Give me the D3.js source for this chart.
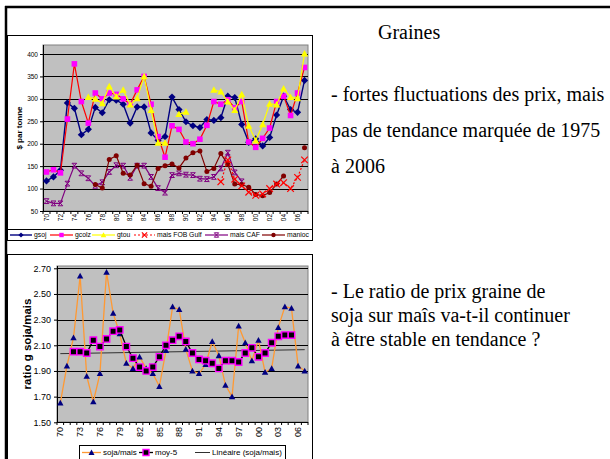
<!DOCTYPE html>
<html>
<head>
<meta charset="utf-8">
<script src="https://cdn.jsdelivr.net/npm/d3@7"></script>
<style>
  body { margin: 0; background: #fff; }
  svg { display: block; }
</style>
</head>
<body>
<svg id="slide" width="610" height="459"></svg>
<script>
// ---------- data ----------
const years = ["70","71","72","73","74","75","76","77","78","79",
               "80","81","82","83","84","85","86","87","88","89",
               "90","91","92","93","94","95","96","97","98","99",
               "00","01","02","03","04","05","06","07"];

// prices, $ per tonne
const gsoj   = [117,126,141,291,279,220,232,281,269,298,
                297,288,246,282,282,224,208,216,304,276,
                249,240,236,254,252,258,306,303,243,203,
                211,195,214,264,306,276,270,341];
const gcolz  = [137,142,135,255,378,294,246,313,300,313,
                310,300,288,320,350,288,216,170,240,232,
                204,200,210,241,294,288,298,280,294,204,
                192,212,235,294,306,263,313,370];
const gtou   = [null,null,null,null,null,null,304,300,290,328,
                305,320,287,301,350,275,202,202,null,266,
                271,null,null,null,320,316,294,275,310,240,
                207,243,289,287,323,304,301,401];
const maisFOB = [null,null,null,null,null,null,null,null,null,null,
                 null,null,null,null,null,null,null,null,null,null,
                 null,null,null,null,null,115,164,121,106,92,
                 85,88,100,110,113,100,125,164];
const maisCAF = [72,67,67,111,151,134,123,106,114,137,
                 152,151,124,151,151,126,101,91,130,134,
                 131,130,122,121,126,145,180,136,116,null,
                 null,null,null,null,null,null,null,null];
const manioc = [null,null,null,null,null,null,null,109,101,165,
                173,134,130,152,111,105,145,151,155,146,
                168,180,184,138,145,178,154,110,109,103,
                87,84,91,110,128,null,null,191];

const priceTicks = [50,100,150,200,250,300,350,400];
const priceYearLabels = ["70","72","74","76","78","80","82","84","86","88",
                         "90","92","94","96","98","00","02","04","06"];

// soybean / maize price ratio
const sojaMais = [1.65,1.94,2.16,2.64,1.86,1.66,1.88,2.67,2.35,2.19,
                  1.96,1.92,2.01,1.92,1.88,1.78,2.06,2.40,2.38,2.07,
                  1.90,1.88,1.95,2.13,2.02,1.79,1.70,2.25,2.12,1.98,
                  2.14,1.89,1.92,2.24,2.40,2.39,1.94,1.90];
const moy5 = [null,null,2.05,2.05,2.04,2.14,2.09,2.15,2.21,2.22,
              2.09,2.00,1.93,1.90,1.93,2.01,2.10,2.14,2.17,2.13,
              2.04,1.99,1.98,1.96,1.92,1.98,1.98,1.97,2.04,2.08,
              2.01,2.04,2.12,2.17,2.18,2.18,null,null];
const trendEnds = [2.035, 2.066];   // linear trend at first and last year

const ratioTicks = [1.50,1.70,1.90,2.10,2.30,2.50,2.70];
const ratioYearLabels = ["70","73","76","79","82","85","88","91","94","97","00","03","06"];

const SANS = "'Liberation Sans', Arial, sans-serif";
const SERIF = "'Liberation Serif', 'Times New Roman', serif";

// ---------- marker shapes ----------
const markers = {
  diamond: r => `M0,${-r}L${r},0L0,${r}L${-r},0Z`,
  square: r => `M${-r},${-r}H${r}V${r}H${-r}Z`,
  triangle: r => `M0,${-r}L${r},${r*0.8}L${-r},${r*0.8}Z`,
  cross: r => `M${-r},${-r}L${r},${r}M${-r},${r}L${r},${-r}`,
  star: r => `M${-r},${-r}L${r},${r}M${-r},${r}L${r},${-r}M${-r},${-r}H${r}M${-r},${r}H${r}`,
  circle: r => `M${r},0A${r},${r} 0 1 1 ${-r},0A${r},${r} 0 1 1 ${r},0Z`
};

const svg = d3.select("#slide");

// ---------- slide frame ----------
svg.append("line").attr("x1", 5).attr("x2", 610).attr("y1", 7).attr("y2", 7)
  .attr("stroke", "#000").attr("stroke-width", 2.5);
svg.append("line").attr("x1", 6).attr("x2", 6).attr("y1", 6).attr("y2", 459)
  .attr("stroke", "#000").attr("stroke-width", 2.5);

// chart boxes
svg.append("rect").attr("x", 7.5).attr("y", 35.5).attr("width", 305).attr("height", 205)
  .attr("fill", "#fff").attr("stroke", "#000");
svg.append("line").attr("x1", 7).attr("x2", 313).attr("y1", 229.5).attr("y2", 229.5)
  .attr("stroke", "#000");
svg.append("rect").attr("x", 7.5).attr("y", 254.5).attr("width", 305).attr("height", 220)
  .attr("fill", "#fff").attr("stroke", "#000");

// ---------- generic series drawing ----------
function drawSeries(g, x, y, values, opt) {
  const pts = years.map((yr, i) => ({ yr, v: values[i] }));
  const line = d3.line()
    .defined(d => d.v != null)
    .x(d => x(d.yr) + x.bandwidth() / 2)
    .y(d => y(d.v));
  g.append("path").datum(pts)
    .attr("fill", "none")
    .attr("stroke", opt.line)
    .attr("stroke-width", opt.lw || 1.2)
    .attr("stroke-dasharray", opt.dash || null)
    .attr("d", line);
  g.selectAll(null).data(pts.filter(d => d.v != null)).enter()
    .append("path")
    .attr("transform", d => `translate(${x(d.yr) + x.bandwidth() / 2},${y(d.v)})`)
    .attr("d", markers[opt.shape](opt.r))
    .attr("fill", opt.fill || "none")
    .attr("stroke", opt.stroke || "none")
    .attr("stroke-width", opt.sw || 1);
}

function legendItem(g, x0, x1, y, label, opt, fontSize) {
  g.append("line").attr("x1", x0).attr("x2", x1).attr("y1", y).attr("y2", y)
    .attr("stroke", opt.line).attr("stroke-width", opt.lw || 1.2)
    .attr("stroke-dasharray", opt.dash || null);
  if (opt.shape) {
    g.append("path").attr("transform", `translate(${(x0 + x1) / 2},${y})`)
      .attr("d", markers[opt.shape](opt.lr || opt.r))
      .attr("fill", opt.fill || "none")
      .attr("stroke", opt.stroke || "none")
      .attr("stroke-width", opt.sw || 1);
  }
  g.append("text").attr("x", x1 + 2).attr("y", y).attr("dy", "0.35em")
    .attr("font-family", SANS).attr("font-size", fontSize).attr("fill", "#000")
    .text(label);
}

// ---------- chart 1: prices ----------
const p1 = { left: 43, right: 308, top: 45, bottom: 211 };
const x1 = d3.scaleBand().domain(years).range([p1.left, p1.right]);
const y1 = d3.scaleLinear().domain([50, 400]).range([211, 54]);
const g1 = svg.append("g");

g1.append("rect").attr("x", p1.left).attr("y", p1.top)
  .attr("width", p1.right - p1.left).attr("height", p1.bottom - p1.top)
  .attr("fill", "#c0c0c0").attr("stroke", "#808080");
g1.selectAll(null).data(priceTicks.slice(1)).enter().append("line")
  .attr("x1", p1.left).attr("x2", p1.right)
  .attr("y1", d => Math.round(y1(d)) + 0.5).attr("y2", d => Math.round(y1(d)) + 0.5)
  .attr("stroke", "#000");

const ax1 = g1.append("g").attr("transform", `translate(${p1.left},0)`)
  .call(d3.axisLeft(y1).tickValues(priceTicks).tickSize(3).tickPadding(2));
ax1.select(".domain").remove();
ax1.selectAll("text").attr("font-family", SANS).attr("font-size", 6.5).attr("fill", "#000");
g1.append("line").attr("x1", p1.left + 0.5).attr("x2", p1.left + 0.5)
  .attr("y1", p1.top).attr("y2", p1.bottom).attr("stroke", "#000");

// category axis: ticks on band edges, labels centred on each other year
g1.append("line").attr("x1", p1.left).attr("x2", p1.right)
  .attr("y1", p1.bottom + 0.5).attr("y2", p1.bottom + 0.5).attr("stroke", "#000");
g1.selectAll(null).data(years.concat(["end"])).enter().append("line")
  .attr("x1", (d, i) => p1.left + i * x1.step()).attr("x2", (d, i) => p1.left + i * x1.step())
  .attr("y1", p1.bottom).attr("y2", p1.bottom + 3).attr("stroke", "#000");
const bx1 = g1.append("g").attr("transform", `translate(0,${p1.bottom})`)
  .call(d3.axisBottom(x1).tickValues(priceYearLabels).tickSize(0).tickPadding(0));
bx1.select(".domain").remove();
bx1.selectAll("text")
  .attr("font-family", SANS).attr("font-size", 6.5).attr("fill", "#000")
  .attr("text-anchor", "end").attr("dy", "0.35em")
  .attr("transform", "translate(0,3) rotate(-90)");

g1.append("text")
  .attr("transform", `translate(22,${(p1.top + p1.bottom) / 2}) rotate(-90)`)
  .attr("text-anchor", "middle").attr("font-family", SANS).attr("font-size", 8)
  .attr("font-weight", "bold").text("$ par tonne");

const s1 = {
  gsoj:   { line: "#000080", shape: "diamond", r: 3.6, fill: "#000080", lw: 1.4, lr: 2.6 },
  gcolz:  { line: "#ff0000", shape: "square", r: 2.8, fill: "#ff00ff", lr: 2.2 },
  gtou:   { line: "#ffff00", shape: "triangle", r: 3.6, fill: "#ffff00", lr: 2.8 },
  fob:    { line: "#ff0000", shape: "cross", r: 3.3, stroke: "#ff0000", dash: "2,2", sw: 1.2, lr: 2.6 },
  caf:    { line: "#800080", shape: "star", r: 2.4, stroke: "#800080", lr: 2.2 },
  manioc: { line: "#800000", shape: "circle", r: 2.5, fill: "#800000", lr: 2.2 }
};
drawSeries(g1, x1, y1, maisCAF, s1.caf);
drawSeries(g1, x1, y1, manioc, s1.manioc);
drawSeries(g1, x1, y1, maisFOB, s1.fob);
drawSeries(g1, x1, y1, gsoj, s1.gsoj);
drawSeries(g1, x1, y1, gcolz, s1.gcolz);
drawSeries(g1, x1, y1, gtou, s1.gtou);

const lg1 = svg.append("g");
const ly1 = 235;
legendItem(lg1, 10, 32, ly1, "gsoj", s1.gsoj, 6.8);
legendItem(lg1, 50, 73, ly1, "gcolz", s1.gcolz, 6.8);
legendItem(lg1, 92, 115, ly1, "gtou", s1.gtou, 6.8);
legendItem(lg1, 134, 155, ly1, "mais FOB Gulf", s1.fob, 6.8);
legendItem(lg1, 205, 228, ly1, "mais CAF", s1.caf, 6.8);
legendItem(lg1, 262, 285, ly1, "manioc", s1.manioc, 6.8);

// ---------- chart 2: soybean / maize ratio ----------
const p2 = { left: 57, right: 308, top: 266, bottom: 422 };
const x2 = d3.scaleBand().domain(years).range([p2.left, p2.right]);
const y2 = d3.scaleLinear().domain([1.5, 2.7]).range([422.3, 268.3]);
const g2 = svg.append("g");

g2.append("rect").attr("x", p2.left).attr("y", p2.top)
  .attr("width", p2.right - p2.left).attr("height", p2.bottom - p2.top)
  .attr("fill", "#c0c0c0").attr("stroke", "#808080");
g2.selectAll(null).data(ratioTicks.slice(1)).enter().append("line")
  .attr("x1", p2.left).attr("x2", p2.right)
  .attr("y1", d => Math.round(y2(d)) + 0.5).attr("y2", d => Math.round(y2(d)) + 0.5)
  .attr("stroke", "#000");

const ax2 = g2.append("g").attr("transform", `translate(${p2.left},0)`)
  .call(d3.axisLeft(y2).tickValues(ratioTicks).tickFormat(d3.format(".2f")).tickSize(3).tickPadding(3));
ax2.select(".domain").remove();
ax2.selectAll("text").attr("font-family", SANS).attr("font-size", 9).attr("fill", "#000");
g2.append("line").attr("x1", p2.left + 0.5).attr("x2", p2.left + 0.5)
  .attr("y1", p2.top).attr("y2", p2.bottom).attr("stroke", "#000");

g2.append("line").attr("x1", p2.left).attr("x2", p2.right)
  .attr("y1", p2.bottom + 0.5).attr("y2", p2.bottom + 0.5).attr("stroke", "#000");
g2.selectAll(null).data(years.concat(["end"])).enter().append("line")
  .attr("x1", (d, i) => p2.left + i * x2.step()).attr("x2", (d, i) => p2.left + i * x2.step())
  .attr("y1", p2.bottom).attr("y2", p2.bottom + 3).attr("stroke", "#000");
const bx2 = g2.append("g").attr("transform", `translate(0,${p2.bottom})`)
  .call(d3.axisBottom(x2).tickValues(ratioYearLabels).tickSize(0).tickPadding(0));
bx2.select(".domain").remove();
bx2.selectAll("text")
  .attr("font-family", SANS).attr("font-size", 9).attr("fill", "#000")
  .attr("text-anchor", "end").attr("dy", "0.35em")
  .attr("transform", "translate(0,5) rotate(-90)");

g2.append("text")
  .attr("transform", `translate(31,${(p2.top + p2.bottom) / 2}) rotate(-90)`)
  .attr("text-anchor", "middle").attr("font-family", SANS).attr("font-size", 11.5)
  .attr("font-weight", "bold").text("ratio g soja/mais");

// trend line
g2.append("line")
  .attr("x1", x2(years[0]) + x2.bandwidth() / 2)
  .attr("x2", x2(years[years.length - 1]) + x2.bandwidth() / 2)
  .attr("y1", y2(trendEnds[0])).attr("y2", y2(trendEnds[1]))
  .attr("stroke", "#303030").attr("stroke-width", 1);

const s2 = {
  ratio: { line: "#ff9933", shape: "triangle", r: 3.2, fill: "#000080", lw: 1.3, lr: 3 },
  moy:   { line: "#000000", shape: "square", r: 3.2, fill: "#000000", stroke: "#ff00ff", sw: 1.4, lw: 1.3, lr: 3 },
  trend: { line: "#303030", lw: 1 }
};
drawSeries(g2, x2, y2, sojaMais, s2.ratio);
drawSeries(g2, x2, y2, moy5, s2.moy);

const lg2 = svg.append("g");
lg2.append("rect").attr("x", 79.5).attr("y", 445.5).attr("width", 206).attr("height", 20)
  .attr("fill", "#fff").attr("stroke", "#000");
const ly2 = 452.5;
legendItem(lg2, 82, 101, ly2, "soja/mais", s2.ratio, 8);
legendItem(lg2, 139, 153, ly2, "moy-5", s2.moy, 8);
legendItem(lg2, 195, 210, ly2, "Linéaire (soja/mais)", s2.trend, 8);

// ---------- commentary ----------
const txt = svg.append("g").attr("font-family", SERIF).attr("font-size", 20).attr("fill", "#000");
txt.append("text").attr("x", 378).attr("y", 39).text("Graines");
[
  ["- fortes fluctuations des prix, mais", 101],
  ["pas de tendance marquée de 1975", 137],
  ["à 2006", 173],
  ["- Le ratio de prix graine de", 298],
  ["soja sur maîs va-t-il continuer", 322],
  ["à être stable en tendance ?", 346]
].forEach(([t, y]) => txt.append("text").attr("x", 331).attr("y", y).text(t));
</script>
</body>
</html>
